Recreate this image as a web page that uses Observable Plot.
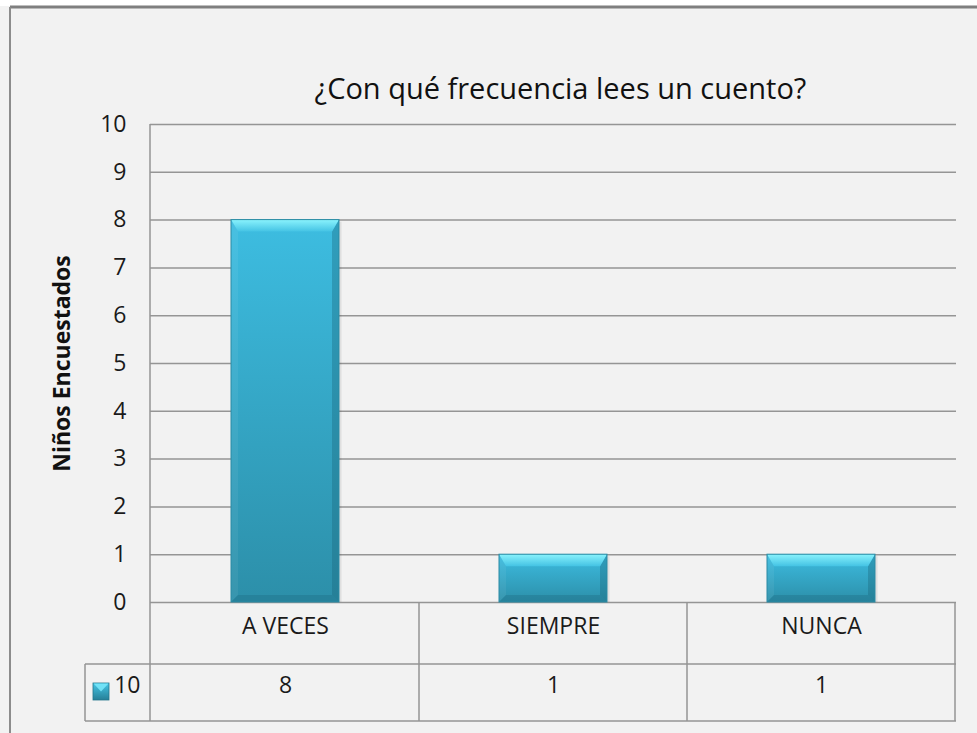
<!DOCTYPE html>
<html>
<head>
<meta charset="utf-8">
<script src="https://cdn.jsdelivr.net/npm/d3@7"></script>
<script src="https://cdn.jsdelivr.net/npm/@observablehq/plot@0.6"></script>
<style>
  html, body { margin: 0; padding: 0; background: #ffffff; }
  #chart svg { display: block; }
</style>
</head>
<body>
<div id="chart"></div>
<script>
// ---- data ----
const categories = ["A VECES", "SIEMPRE", "NUNCA"];
const values = [8, 1, 1];
const seriesName = "10";
const yTicks = [0, 1, 2, 3, 4, 5, 6, 7, 8, 9, 10];
const titleText = "¿Con qué frecuencia lees un cuento?";
const yLabelText = "Niños Encuestados";

const data = categories.map((c, i) => ({cat: c, value: values[i]}));

const INSET = 80;
const FONT = "'Open Sans', 'DejaVu Sans', sans-serif";
const LINE = "#959595";

function findArgs(args) {
  const arr = Array.from(args);
  const sc = arr.find(a => a && typeof a.x === "function" && typeof a.y === "function");
  const dims = arr.find(a => a && typeof a === "object" && "marginTop" in a && "width" in a);
  return {sc, dims};
}

// gradient definitions
function defsMark() {
  const defs = d3.create("svg:defs");
  const g = defs.append("linearGradient").attr("id", "barGrad")
    .attr("x1", 0).attr("y1", 0).attr("x2", 0).attr("y2", 1);
  g.append("stop").attr("offset", 0).attr("stop-color", "#3dbde1");
  g.append("stop").attr("offset", 1).attr("stop-color", "#2c8fa9");
  const t = defs.append("linearGradient").attr("id", "topGrad")
    .attr("x1", 0).attr("y1", 0).attr("x2", 0).attr("y2", 1);
  t.append("stop").attr("offset", 0).attr("stop-color", "#8af3fd");
  t.append("stop").attr("offset", 1).attr("stop-color", "#44c3e4");
  const lg = defs.append("linearGradient").attr("id", "legGrad")
    .attr("x1", 0).attr("y1", 0).attr("x2", 0).attr("y2", 1);
  lg.append("stop").attr("offset", 0).attr("stop-color", "#45c6e6");
  lg.append("stop").attr("offset", 1).attr("stop-color", "#277f97");
  return defs.node();
}

// outer border + data table grid
function tableMark() {
  const {sc, dims} = findArgs(arguments);
  const x = sc.x, y = sc.y;
  const bw = x.bandwidth ? x.bandwidth() : 0;
  const y0 = y(0);
  const yTop = y(10);
  const r1 = y0 + 62, r2 = y0 + 119;
  const left = dims.marginLeft, right = dims.width - dims.marginRight;
  const legLeft = left - 65;
  const g = d3.create("svg:g").attr("fill", "none");
  // outer frame of the chart object
  g.append("rect").attr("x", 0).attr("y", 0).attr("width", dims.width).attr("height", 6).attr("fill", "#ffffff");
  g.append("line").attr("x1", 10).attr("x2", dims.width).attr("y1", 7).attr("y2", 7)
    .attr("stroke", "#7f7f7f").attr("stroke-width", 3);
  g.append("line").attr("x1", 10).attr("x2", 10).attr("y1", 7).attr("y2", dims.height)
    .attr("stroke", "#8c8c8c").attr("stroke-width", 2);
  const st = s => s.attr("stroke", LINE).attr("stroke-width", 1.5);
  // left axis line through the table
  st(g.append("line").attr("x1", left).attr("x2", left).attr("y1", yTop).attr("y2", r2));
  // category separators
  const edges = categories.map(c => x(c)).concat([x(categories[categories.length - 1]) + bw]);
  edges.slice(1).forEach(e => st(g.append("line").attr("x1", e).attr("x2", e).attr("y1", y0).attr("y2", r2)));
  // horizontal table lines
  st(g.append("line").attr("x1", legLeft).attr("x2", right).attr("y1", r1).attr("y2", r1));
  st(g.append("line").attr("x1", legLeft).attr("x2", right).attr("y1", r2).attr("y2", r2));
  st(g.append("line").attr("x1", legLeft).attr("x2", legLeft).attr("y1", r1).attr("y2", r2));
  // legend key square
  const ky = r1 + 19;
  g.append("rect").attr("x", legLeft + 8).attr("y", ky).attr("width", 16).attr("height", 17)
    .attr("fill", "url(#legGrad)").attr("stroke", "#23758c").attr("stroke-width", 0.8);
  g.append("path").attr("d", `M${legLeft + 8.5},${ky + 0.5}h15l-7.5,8z`).attr("fill", "#7ae9fb").attr("opacity", 0.85);
  return g.node();
}

// bevel overlay for the bars
function bevelMark() {
  const {sc} = findArgs(arguments);
  const x = sc.x, y = sc.y;
  const bw = x.bandwidth ? x.bandwidth() : 0;
  const g = d3.create("svg:g");
  data.forEach(d => {
    const x0 = x(d.cat) + INSET, x1 = x(d.cat) + bw - INSET;
    const yt = y(d.value), yb = y(0);
    const s = 7, t = 12, b = 7;
    const poly = (pts, fill, op) => g.append("polygon")
      .attr("points", pts.map(p => p.join(",")).join(" ")).attr("fill", fill).attr("opacity", op);
    poly([[x1, yt], [x1, yb], [x1 - s, yb - b], [x1 - s, yt + t]], "#1b6378", 0.35);
    poly([[x0, yt], [x0 + s, yt + t], [x0 + s, yb - b], [x0, yb]], "#ffffff", 0.06);
    poly([[x0, yb], [x1, yb], [x1 - s, yb - b], [x0 + s, yb - b]], "#1d6a80", 0.35);
    poly([[x0, yt], [x1, yt], [x1 - s, yt + t], [x0 + s, yt + t]], "url(#topGrad)", 1);
    g.append("rect").attr("x", x0).attr("y", yt).attr("width", x1 - x0).attr("height", yb - yt)
      .attr("fill", "none").attr("stroke", "#2b8aa3").attr("stroke-width", 1);
    g.append("rect").attr("x", x1 + 0.5).attr("y", yt + 2).attr("width", 2).attr("height", yb - yt - 2)
      .attr("fill", "#000").attr("opacity", 0.08);
  });
  return g.node();
}

const chart = Plot.plot({
  width: 977,
  height: 733,
  marginLeft: 150,
  marginRight: 21,
  marginTop: 124,
  marginBottom: 131,
  style: {background: "#f2f2f2", fontFamily: FONT, fontSize: "23px", color: "#1a1a1a", overflow: "visible"},
  x: {domain: categories, padding: 0, axis: null},
  y: {domain: [0, 10], ticks: yTicks, tickSize: 0, tickPadding: 24, label: null, tickFormat: d => String(d)},
  marks: [
    defsMark,
    Plot.ruleY(yTicks, {stroke: LINE, strokeWidth: 1.5}),
    tableMark,
    Plot.barY(data, {x: "cat", y: "value", fill: "url(#barGrad)", insetLeft: INSET, insetRight: INSET}),
    bevelMark,
    Plot.text([titleText], {frameAnchor: "top", dx: 7, dy: -46, text: d => d, fontSize: 29, fill: "#111"}),
    Plot.text([yLabelText], {frameAnchor: "left", textAnchor: "middle", dx: -88, text: d => d, rotate: -90, fontSize: 23, fontWeight: "bold", fill: "#111", letterSpacing: "2px"}),
    Plot.text(categories, {x: d => d, frameAnchor: "bottom", dy: 31, text: d => d, fill: "#1a1a1a"}),
    Plot.text(data, {x: "cat", frameAnchor: "bottom", dy: 90, text: d => String(d.value), fill: "#1a1a1a"}),
    Plot.text([seriesName], {frameAnchor: "bottom-left", dx: -10, dy: 90, textAnchor: "end", text: d => d, fill: "#1a1a1a"})
  ]
});
document.getElementById("chart").appendChild(chart);
</script>
</body>
</html>
